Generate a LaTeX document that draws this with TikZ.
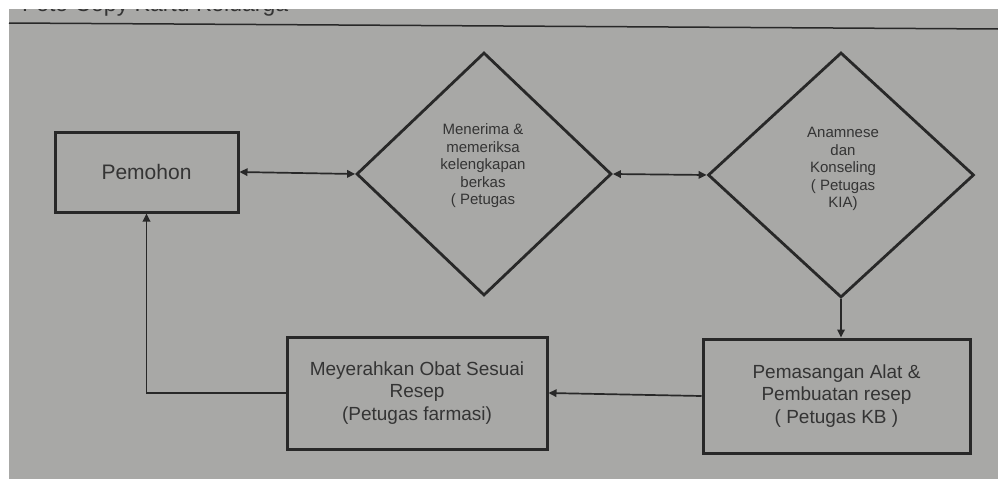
\documentclass[tikz,border=0pt]{standalone}
\usepackage{fontspec}
\setmainfont{Liberation Sans}
\usetikzlibrary{shapes.geometric,arrows.meta}
\definecolor{paper}{RGB}{168,168,166}
\definecolor{ink}{RGB}{40,40,40}
\definecolor{txt}{RGB}{52,52,52}
\tikzset{
  boxnode/.style={draw=ink, line width=3pt, rectangle, inner sep=0pt, align=center, text=txt},
  dianode/.style={draw=ink, line width=2.8pt, diamond, inner sep=0pt},
  diatext/.style={align=center, text=txt, inner sep=0pt, font=\fontsize{15}{17.5}\selectfont},
  conn/.style={draw=ink, line width=1.7pt},
  onetip/.style={-{Triangle[length=8pt,width=7.5pt]}},
  twotips/.style={{Triangle[length=8pt,width=7.5pt]}-{Triangle[length=8pt,width=7.5pt]}},
}
\begin{document}
\begin{tikzpicture}[x=1pt,y=-1pt]
\useasboundingbox (0,0) rectangle (998,479);
\fill[white] (0,0) rectangle (998,479);
\fill[paper] (9,9) rectangle (998,479);
\begin{scope}
  \clip (9,9) rectangle (998,479);
  \node[anchor=base west, font=\fontsize{23}{26}\selectfont, text=txt, inner sep=0pt] (hdr) at (22,11.5) {Foto Copy Kartu Keluarga};
\end{scope}
\draw[ink, line width=1.5pt] (9,23) -- (998,29);

% boxes
\node[boxnode, minimum width=183pt, minimum height=80pt, font=\fontsize{21}{24}\selectfont] (pem) at (146.5,172) {Pemohon};
\node[boxnode, minimum width=260pt, minimum height=112pt, font=\fontsize{19}{22.5}\selectfont] (fa) at (417,393) {Meyerahkan Obat Sesuai\\Resep\\(Petugas farmasi)};
\node[boxnode, minimum width=267pt, minimum height=114pt, font=\fontsize{19}{22.5}\selectfont] (kb) at (836.5,396) {Pemasangan Alat \&\\Pembuatan resep\\( Petugas KB )};

% diamonds
\node[dianode, minimum width=255pt, minimum height=243pt] (d1) at (484,174) {};
\node[diatext] (t1) at (483,166) {Menerima \&\\memeriksa\\kelengkapan\\berkas\\( Petugas};
\node[dianode, minimum width=266pt, minimum height=245pt] (d2) at (841,175) {};
\node[diatext] (t2) at (843,169) {Anamnese\\dan\\Konseling\\( Petugas\\KIA)};

% connectors
\draw[conn, twotips] (pem.east) -- (d1.west);
\draw[conn, twotips] (d1.east) -- (d2.west);
\draw[conn, onetip] (d2.south) -- (d2.south |- kb.north);
\draw[conn, onetip] (kb.west) -- (fa.east);
\draw[conn, onetip] (fa.west) -| (pem.south);
\end{tikzpicture}
\end{document}
